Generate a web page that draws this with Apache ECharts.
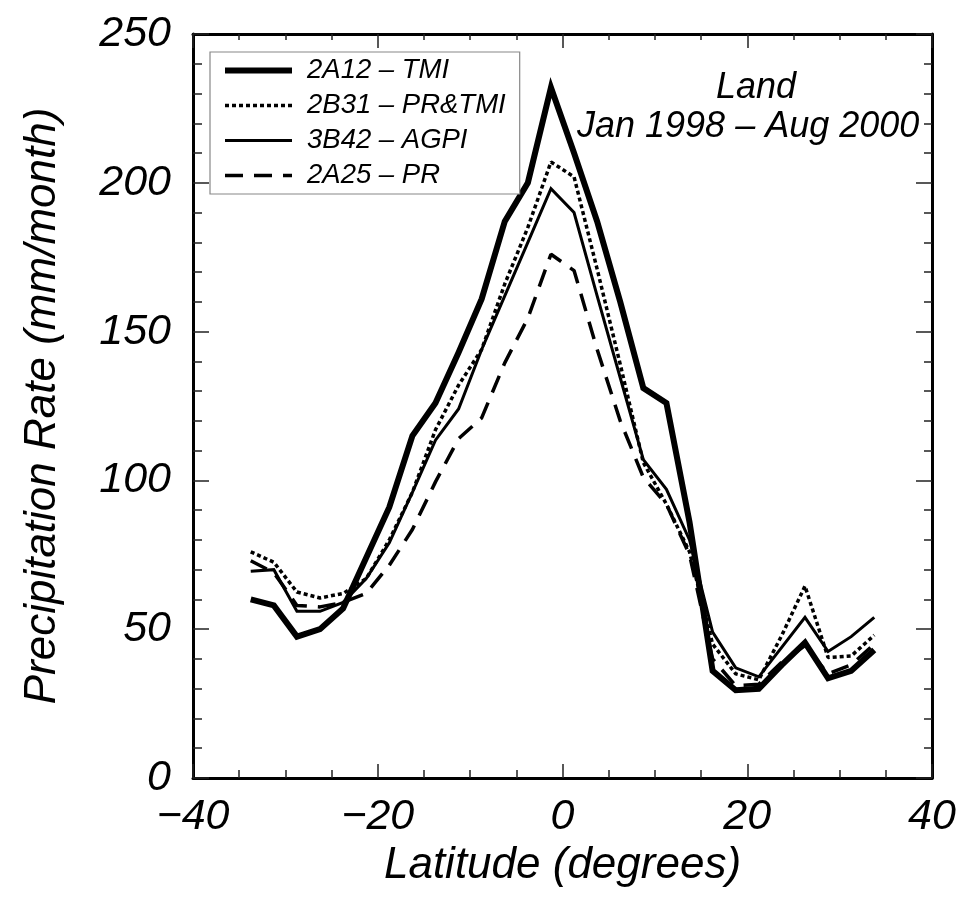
<!DOCTYPE html>
<html>
<head>
<meta charset="utf-8">
<script src="https://cdn.jsdelivr.net/npm/echarts@6/dist/echarts.min.js"></script>
<style>
  html, body { margin: 0; padding: 0; background: #fff; }
  #chart { width: 966px; height: 902px; }
</style>
</head>
<body>
<div id="chart"></div>
<script>
// Zonal-mean land precipitation by latitude band (2.5° bins)
const latitudes = [-33.75, -31.25, -28.75, -26.25, -23.75, -21.25, -18.75, -16.25, -13.75, -11.25,
  -8.75, -6.25, -3.75, -1.25, 1.25, 3.75, 6.25, 8.75, 11.25, 13.75,
  16.25, 18.75, 21.25, 23.75, 26.25, 28.75, 31.25, 33.75];

const tmi2A12 = [60, 58, 47.5, 50, 57, 74, 91, 115, 126, 143,
  161, 187, 200, 232, 210, 187, 160, 131, 126, 86,
  36, 29.5, 30, 38, 45.5, 33.5, 36, 43];

const prTmi2B31 = [76, 72.5, 62.5, 60.5, 62, 67, 80, 96, 117, 132,
  144, 166, 185, 207, 202, 171, 139, 106, 92, 76,
  45, 35, 33, 48, 64.5, 40.5, 41, 48];

const agpi3B42 = [69.5, 70, 56, 56, 59, 67, 79, 96, 113.5, 124,
  144, 162, 180, 198, 190, 162, 134.5, 107, 97, 80,
  49, 37, 34, 44, 54, 42.5, 47.5, 54];

const pr2A25 = [73, 69, 58, 57.5, 59, 62, 71.5, 83.5, 99.5, 114,
  121, 139.5, 154.5, 176, 170.5, 144, 120, 101, 92, 75,
  40, 31, 31.5, 39, 44.5, 35, 38, 45];

const seriesNames = ['2A12 \u2013 TMI', '2B31 \u2013 PR&TMI', '3B42 \u2013 AGPI', '2A25 \u2013 PR'];

const FONT = '"Liberation Sans", Arial, Helvetica, sans-serif';

function pairs(vals) {
  return latitudes.map((lat, i) => [lat, vals[i]]);
}

function fmtNum(v) {
  return v < 0 ? '\u2212' + Math.abs(v) : String(v);
}

const chart = echarts.init(document.getElementById('chart'), null, { renderer: 'canvas' });

const frameLine = { show: true, onZero: false, lineStyle: { color: '#000', width: 3 } };
const tickLine = { color: '#222', width: 1.5 };

const option = {
  backgroundColor: '#fff',
  animation: false,
  color: ['#000', '#000', '#000', '#000'],
  grid: { left: 193, right: 34, top: 34, bottom: 124, show: false },
  legend: {
    orient: 'vertical',
    left: 210,
    top: 52,
    padding: [5, 14, 5, 12],
    itemGap: 8,
    itemWidth: 67,
    itemHeight: 14,
    backgroundColor: '#fff',
    borderColor: '#888',
    borderWidth: 1.2,
    borderRadius: 0,
    data: seriesNames,
    itemStyle: { opacity: 0 },
    lineStyle: { width: 'inherit', type: 'inherit', color: '#000' },
    textStyle: {
      fontFamily: FONT, fontStyle: 'italic', fontSize: 27.5, color: '#000',
      lineHeight: 26, padding: [0, 0, 0, 10]
    }
  },
  xAxis: [
    {
      type: 'value', min: -40, max: 40, interval: 20, position: 'bottom',
      axisLine: frameLine, splitLine: { show: false },
      axisTick: { show: true, inside: true, length: 14, lineStyle: tickLine },
      minorTick: { show: true, splitNumber: 4, length: 8, lineStyle: tickLine },
      axisLabel: {
        margin: 18, fontFamily: FONT, fontStyle: 'italic', fontSize: 43, color: '#000',
        formatter: v => fmtNum(v)
      },
      name: 'Latitude (degrees)',
      nameLocation: 'middle',
      nameGap: 62,
      nameTextStyle: { fontFamily: FONT, fontStyle: 'italic', fontSize: 44, color: '#000' }
    },
    {
      type: 'value', min: -40, max: 40, interval: 20, position: 'top',
      axisLine: frameLine, splitLine: { show: false },
      axisTick: { show: true, inside: true, length: 14, lineStyle: tickLine },
      minorTick: { show: true, splitNumber: 4, length: 6, lineStyle: tickLine },
      axisLabel: { show: false }
    }
  ],
  yAxis: [
    {
      type: 'value', min: 0, max: 250, interval: 50, position: 'left',
      axisLine: frameLine, splitLine: { show: false },
      axisTick: { show: true, inside: true, length: 16, lineStyle: tickLine },
      minorTick: { show: true, splitNumber: 5, length: 9, lineStyle: tickLine },
      axisLabel: {
        margin: 22, fontFamily: FONT, fontStyle: 'italic', fontSize: 43, color: '#000',
        formatter: v => fmtNum(v)
      },
      name: 'Precipitation Rate (mm/month)',
      nameLocation: 'middle',
      nameGap: 128,
      nameTextStyle: { fontFamily: FONT, fontStyle: 'italic', fontSize: 44, color: '#000' }
    },
    {
      type: 'value', min: 0, max: 250, interval: 50, position: 'right',
      axisLine: frameLine, splitLine: { show: false },
      axisTick: { show: true, inside: true, length: 16, lineStyle: tickLine },
      minorTick: { show: true, splitNumber: 5, length: 8, lineStyle: tickLine },
      axisLabel: { show: false }
    }
  ],
  graphic: [
    {
      type: 'text', left: 716, top: 70, z: 10,
      style: { text: 'Land', font: 'italic 36px ' + FONT, fill: '#000' }
    },
    {
      type: 'text', left: 577, top: 109, z: 10,
      style: { text: 'Jan 1998 \u2013 Aug 2000', font: 'italic 36px ' + FONT, fill: '#000' }
    }
  ],
  series: [
    {
      name: seriesNames[0], type: 'line', data: pairs(tmi2A12),
      xAxisIndex: 0, yAxisIndex: 0, symbol: 'none', z: 3,
      itemStyle: { color: '#000' },
      lineStyle: { color: '#000', width: 6, join: 'miter' }
    },
    {
      name: seriesNames[1], type: 'line', data: pairs(prTmi2B31),
      xAxisIndex: 0, yAxisIndex: 0, symbol: 'none', z: 4,
      itemStyle: { color: '#000' },
      lineStyle: { color: '#000', width: 3.5, type: [4, 3], cap: 'butt' }
    },
    {
      name: seriesNames[2], type: 'line', data: pairs(agpi3B42),
      xAxisIndex: 0, yAxisIndex: 0, symbol: 'none', z: 4,
      itemStyle: { color: '#000' },
      lineStyle: { color: '#000', width: 3, join: 'miter' }
    },
    {
      name: seriesNames[3], type: 'line', data: pairs(pr2A25),
      xAxisIndex: 0, yAxisIndex: 0, symbol: 'none', z: 4,
      itemStyle: { color: '#000' },
      lineStyle: { color: '#000', width: 3.5, type: [18, 11], cap: 'butt' }
    }
  ]
};

chart.setOption(option);
</script>
</body>
</html>
